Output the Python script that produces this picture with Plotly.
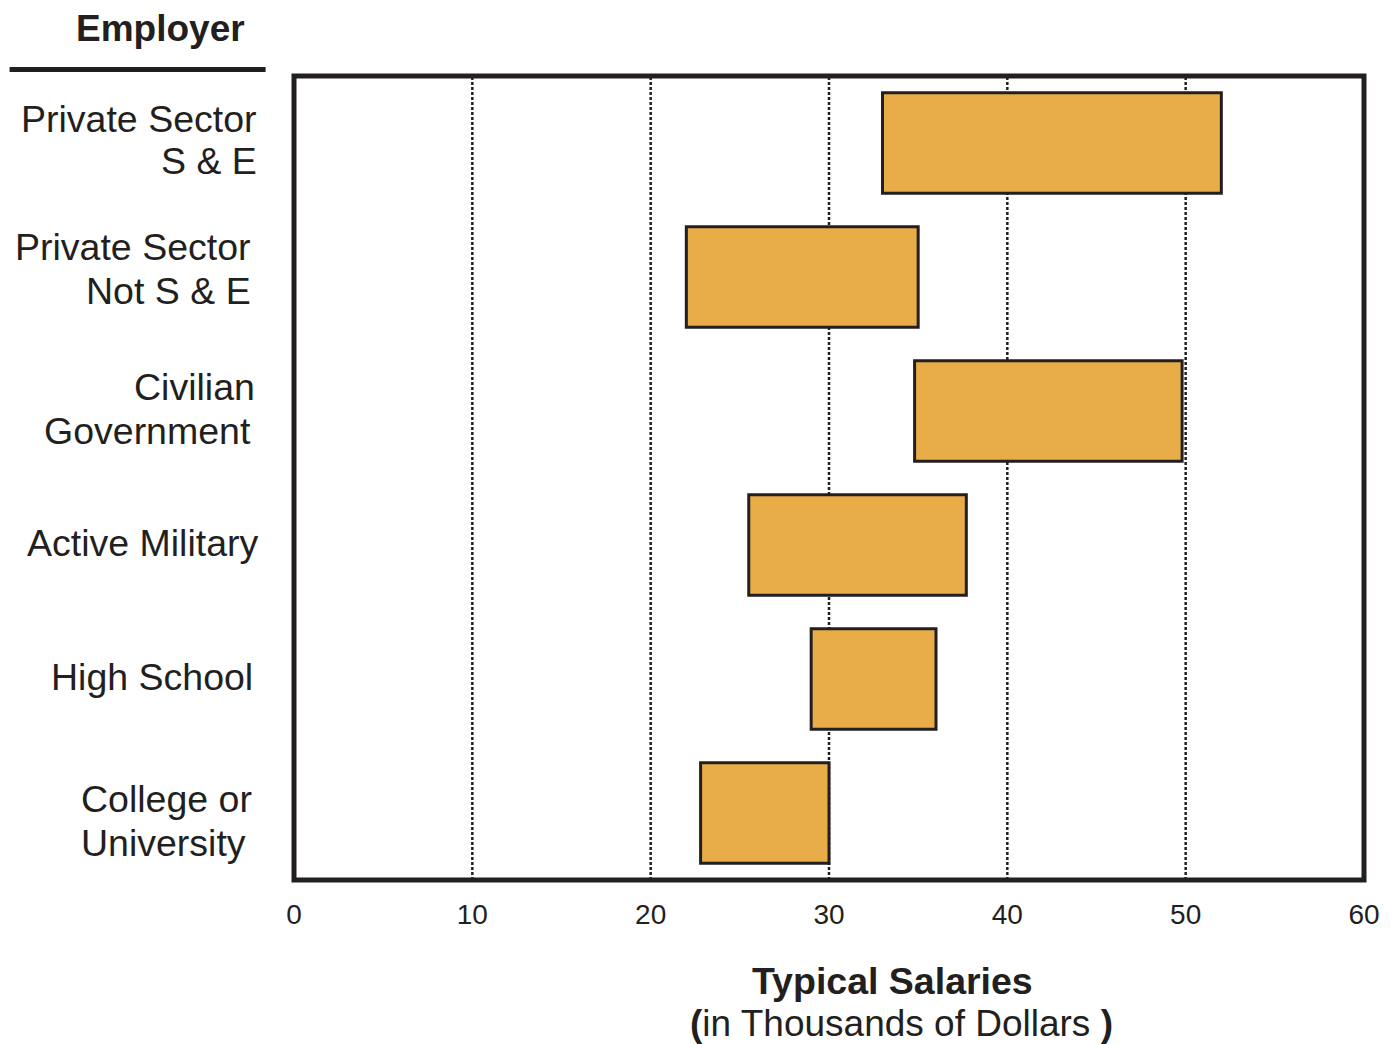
import plotly.graph_objects as go

# ---- data ----
employers = ["Private Sector<br>S & E", "Private Sector<br>Not S & E", "Civilian<br>Government",
             "Active Military", "High School", "College or<br>University"]
salary_low = [33, 22, 34.8, 25.5, 29, 22.8]
salary_high = [52, 35, 49.8, 37.7, 36, 30]
x_ticks = [0, 10, 20, 30, 40, 50, 60]

# ---- style ----
FONT = "Liberation Sans, Arial, sans-serif"
INK = "#231F20"
FILL = "#E8AC48"
OFF = 8  # page body margin
W, H = 1400 - 2 * OFF, 1044 - OFF
FRAME_W = 5
# plot area = frame line centres in page pixels
PL, PR, PT, PB = 293.5, 1367.5, 75.5, 880
ML, MR, MT, MB = PL - OFF, W - (PR - OFF), PT - OFF, H - (PB - OFF)
PW = PR - PL
PH = PB - PT
LABEL_SIZE = 37.5

def px_to_paper_x(px):
    return (px - PL) / PW

def px_to_paper_y(py):
    return 1 - (py - PT) / PH

# per-line label placement (page pixels): right edge (or left edge), vertical offset from bar center (+ = down)
label_style = [
    dict(anchor="right", xpx=[257, 257], offs=[-24, 18]),
    dict(anchor="right", xpx=[251, 251], offs=[-30, 14]),
    dict(anchor="right", xpx=[255, 251], offs=[-24, 20]),
    dict(anchor="right", xpx=[259], offs=[-2]),
    dict(anchor="right", xpx=[253], offs=[-2]),
    dict(anchor="left", xpx=[79, 79], offs=[-14, 30]),
]

ypos = list(range(len(employers)))
widths = [hi - lo for lo, hi in zip(salary_low, salary_high)]

fig = go.Figure()
fig.add_trace(go.Bar(
    y=ypos, x=widths, base=salary_low, orientation="h", width=0.75,
    marker=dict(color=FILL, line=dict(color=INK, width=3)),
    hoverinfo="skip", showlegend=False,
))

annotations = []
for i, (lab, st) in enumerate(zip(employers, label_style)):
    lines = lab.split("<br>")
    for j, ln in enumerate(lines):
        annotations.append(dict(
            x=px_to_paper_x(st["xpx"][j]), xref="paper", xanchor=st["anchor"],
            y=i, yref="y", yanchor="middle", yshift=-st["offs"][j],
            text=ln, showarrow=False, borderpad=0,
            font=dict(family=FONT, size=LABEL_SIZE, color=INK),
        ))

# header
annotations.append(dict(
    x=px_to_paper_x(160), xref="paper", xanchor="center",
    y=px_to_paper_y(28), yref="paper", yanchor="middle",
    text="<b>Employer</b>", showarrow=False, font=dict(family=FONT, size=37, color=INK),
))
# axis title
annotations.append(dict(
    x=px_to_paper_x(894), xref="paper", xanchor="center",
    y=px_to_paper_y(981), yref="paper", yanchor="middle",
    text="<b>Typical Salaries</b>", showarrow=False, font=dict(family=FONT, size=37.5, color=INK),
))
annotations.append(dict(
    x=px_to_paper_x(903), xref="paper", xanchor="center",
    y=px_to_paper_y(1024), yref="paper", yanchor="middle",
    text="<b>(</b>in Thousands of Dollars <b>)</b>", showarrow=False,
    font=dict(family=FONT, size=37, color=INK),
))

shapes = [dict(type="line", xref="paper", yref="paper",
               x0=px_to_paper_x(8), x1=px_to_paper_x(265),
               y0=px_to_paper_y(69), y1=px_to_paper_y(69),
               line=dict(color=INK, width=5))]
# dotted vertical grid lines at the interior ticks
for v in x_ticks[1:-1]:
    shapes.append(dict(type="line", xref="x", yref="paper", x0=v, x1=v, y0=0, y1=1,
                       layer="below", line=dict(color=INK, width=2.5, dash="3px,2px")))
# heavy frame centred on the plot-area edge
shapes.append(dict(type="rect", xref="paper", yref="paper", x0=0, x1=1, y0=0, y1=1,
                   layer="above", line=dict(color=INK, width=FRAME_W), fillcolor="rgba(0,0,0,0)"))

fig.update_layout(
    width=W, height=H,
    margin=dict(l=ML, r=MR, t=MT, b=MB, pad=0),
    paper_bgcolor="white", plot_bgcolor="white",
    annotations=annotations,
    shapes=shapes,
    xaxis=dict(
        range=[0, 60], tickvals=x_ticks, ticktext=[str(v) for v in x_ticks],
        showgrid=False, zeroline=False, showline=False,
        ticks="", ticklabelstandoff=15,
        tickfont=dict(family=FONT, size=28, color=INK),
    ),
    yaxis=dict(
        range=[5.5, -0.5], showticklabels=False, showgrid=False, zeroline=False,
        showline=False, ticks="",
    ),
)

fig.write_html("out.html")
